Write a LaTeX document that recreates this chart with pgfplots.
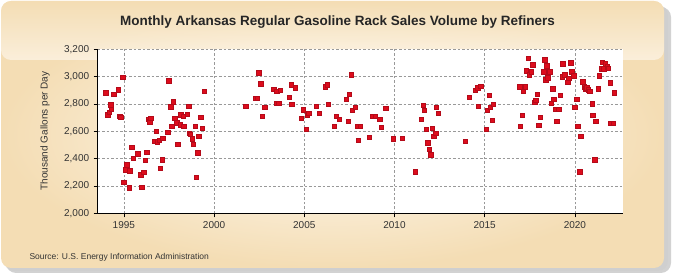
\documentclass[border=0pt]{standalone}
\usepackage{pgfplots}
\pgfplotsset{compat=1.18}
\usepackage{fontspec}
\setmainfont{Liberation Sans}
\definecolor{pts}{RGB}{221,12,28}
\definecolor{ptsedge}{RGB}{180,10,25}
\definecolor{panelout}{RGB}{244,221,180}
\definecolor{panelin}{RGB}{255,251,244}
\definecolor{txt}{HTML}{333333}

\pgfplotstableread{
x y
1994.00 2884
1994.11 2723
1994.17 2740
1994.26 2795
1994.31 2761
1994.44 2870
1994.67 2906
1994.76 2711
1994.83 2704
1994.93 2998
1994.98 2226
1995.11 2320
1995.15 2357
1995.28 2188
1995.31 2311
1995.43 2484
1995.50 2405
1995.76 2436
1995.93 2284
1995.98 2190
1996.09 2299
1996.17 2390
1996.26 2448
1996.33 2689
1996.43 2672
1996.48 2694
1996.67 2528
1996.78 2600
1996.83 2523
1996.94 2535
1997.00 2332
1997.11 2393
1997.15 2549
1997.43 2593
1997.48 2971
1997.59 2781
1997.65 2639
1997.74 2817
1997.81 2694
1997.93 2663
1997.98 2508
1998.11 2648
1998.15 2723
1998.28 2711
1998.31 2639
1998.50 2725
1998.60 2783
1998.61 2588
1998.67 2578
1998.78 2547
1998.83 2508
1998.94 2639
1999.00 2263
1999.09 2443
1999.15 2566
1999.26 2704
1999.33 2624
1999.44 2892
2001.76 2783
2002.30 2841
2002.39 2841
2002.48 3029
2002.59 2949
2002.67 2711
2002.81 2776
2003.31 2908
2003.43 2805
2003.46 2892
2003.59 2805
2003.65 2899
2004.15 2848
2004.26 2940
2004.31 2798
2004.48 2920
2004.83 2696
2004.93 2757
2005.09 2617
2005.15 2718
2005.24 2733
2005.65 2783
2005.81 2733
2006.15 2928
2006.26 2940
2006.33 2798
2006.65 2639
2006.76 2711
2006.93 2689
2007.31 2834
2007.43 2675
2007.48 2870
2007.61 3014
2007.65 2754
2007.81 2776
2007.93 2639
2007.98 2537
2008.09 2639
2008.59 2559
2008.80 2711
2008.93 2711
2009.17 2689
2009.26 2631
2009.50 2769
2009.93 2545
2010.43 2552
2011.15 2306
2011.48 2689
2011.60 2790
2011.65 2754
2011.76 2617
2011.83 2516
2011.93 2470
2012.00 2429
2012.09 2624
2012.17 2566
2012.28 2588
2012.31 2776
2012.43 2733
2013.93 2530
2014.15 2848
2014.48 2899
2014.61 2920
2014.65 2783
2014.78 2930
2015.07 2617
2015.13 2754
2015.26 2863
2015.31 2776
2015.43 2682
2015.48 2798
2016.93 2928
2016.96 2639
2017.07 2718
2017.13 2892
2017.24 2928
2017.31 3043
2017.40 3137
2017.46 3014
2017.57 3036
2017.65 3087
2017.76 2812
2017.83 2827
2017.91 2870
2017.98 2646
2018.09 2704
2018.26 3036
2018.33 3123
2018.39 2978
2018.44 3080
2018.50 2993
2018.59 3036
2018.67 2805
2018.76 2913
2018.83 2834
2018.93 2761
2018.98 2675
2019.09 2761
2019.17 2863
2019.28 3000
2019.33 3094
2019.44 3014
2019.59 2959
2019.65 2988
2019.76 3101
2019.83 3036
2019.94 3007
2019.98 2776
2020.09 2834
2020.15 2639
2020.26 2306
2020.31 2566
2020.43 2964
2020.50 2928
2020.56 2911
2020.65 2920
2020.72 2906
2020.81 2892
2020.94 2802
2020.98 2718
2021.09 2393
2021.15 2675
2021.28 2913
2021.35 3007
2021.46 3058
2021.52 3108
2021.60 3058
2021.69 3096
2021.80 3072
2021.85 3063
2021.94 2957
2021.98 2660
2022.13 2660
2022.17 2884
}\rackdata

\begin{document}
\begin{tikzpicture}[x=1pt,y=1pt]
\useasboundingbox (0,0) rectangle (675,275);
% panel with shadow
\fill[black!35,opacity=0.5,rounded corners=10pt] (6,2) rectangle (671,268);
\fill[black!20,opacity=0.5,rounded corners=10pt] (4,4) rectangle (668,270);
\shade[rounded corners=10pt,inner color=panelin,outer color=panelout] (1,7) rectangle (664,274);
\shade[rounded corners=10pt,top color=panelout,bottom color=panelin,opacity=0.6] (1,215) rectangle (664,274);

\begin{axis}[
  at={(97.7pt,61.7pt)},anchor=south west,
  scale only axis,width=525pt,height=164pt,
  xmin=1993.55,xmax=2022.65,ymin=2000,ymax=3200,
  xtick={1995,2000,...,2020},
  ytick={2000,2200,...,3200},
  axis background/.style={fill=white},
  axis x line*=bottom,axis y line*=left,
  axis line style={black,line width=1pt,-},
  tick align=outside,major tick length=4pt,
  tick style={black,line width=0.6pt},
  grid=major,
  major grid style={black!40,dash pattern=on 2.5pt off 2pt,line width=0.6pt},
  /pgf/number format/assume math mode=true,
  ticklabel style={font=\fontsize{10}{12}\selectfont,text=txt},
  yticklabel style={/pgf/number format/1000 sep={,},xshift=-1pt},
  xticklabel style={/pgf/number format/1000 sep={},yshift=-1pt},
  clip=false,
]
\addplot[only marks,mark=square*,mark size=2.2pt,
  mark options={fill=pts,draw=ptsedge,line width=0.3pt}]
  table[x=x,y=y] {\rackdata};
\end{axis}

\node[font=\bfseries\fontsize{13.5}{16}\selectfont,text=black!85] at (337.5,253) {Monthly Arkansas Regular Gasoline Rack Sales Volume by Refiners};
\node[rotate=90,font=\fontsize{10}{12}\selectfont,text=txt] at (45,144) {Thousand Gallons per Day};
\node[anchor=west,font=\fontsize{8.5}{10}\selectfont,text=txt] at (26,18) {Source: U.S. Energy Information Administration};
\end{tikzpicture}
\end{document}
